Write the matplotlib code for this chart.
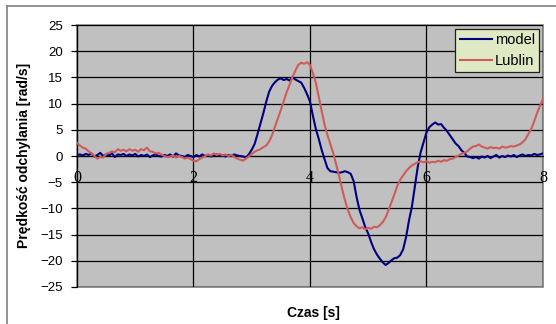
import numpy as np
import matplotlib
matplotlib.use('Agg')
import matplotlib.pyplot as plt
from matplotlib.lines import Line2D

# time grid, 0.05 s step
czas = np.linspace(0, 8, 161)

# values, 0.5 s per row
model = [
    0.2, 0.3, 0.1, 0.4, 0.2, 0.5, -0.1, 0.2, 0.6, 0.0,
    0.3, 0.1, 0.5, -0.2, 0.3, 0.2, 0.4, 0.0, 0.3, 0.1,
    0.4, -0.1, 0.2, 0.0, 0.3, -0.2, 0.1, 0.3, 0.0, -0.1,
    0.2, 0.0, 0.3, -0.1, 0.5, 0.1, 0.0, -0.2, 0.2, 0.0,
    -0.2, 0.2, -0.1, 0.3, 0.0, 0.2, -0.1, 0.1, 0.3, 0.0,
    0.2, -0.1, 0.2, 0.0, 0.3, 0.1, 0.0, -0.1, -0.3, 0.3,
    1.2, 2.3, 4.2, 6.2, 8.2, 10.4, 12.3, 13.4, 14.1, 14.6,
    14.8, 14.5, 14.7, 14.4, 15.0, 14.6, 14.3, 14.0, 13.0, 11.8,
    10.4, 7.7, 5.2, 3.3, 1.2, -0.6, -2.3, -2.9, -3.0, -3.1,
    -3.2, -3.1, -2.9, -3.1, -3.4, -4.8, -7.8, -10.3, -11.9, -13.6,
    -14.8, -16.4, -17.8, -18.8, -19.6, -20.3, -20.8, -20.4, -19.9, -19.5,
    -19.4, -18.9, -17.8, -15.5, -12.3, -9.7, -5.9, -2.1, 0.7, 2.6,
    4.5, 5.5, 6.0, 6.4, 6.0, 6.1, 5.4, 4.8, 4.0, 3.2,
    2.4, 1.9, 1.1, 0.6, -0.1, -0.2, -0.4, -0.2, -0.5, -0.1,
    -0.3, 0.0, -0.4, -0.1, 0.2, -0.3, 0.0, -0.2, 0.1, -0.1,
    0.2, -0.2, 0.1, 0.3, 0.0, 0.2, 0.1, 0.4, 0.2, 0.3,
    0.5,
]

lublin = [
    2.5, 2.0, 1.6, 1.4, 0.9, 0.5, 0.0, -0.5, -0.2, -0.3,
    0.4, 0.6, 0.9, 0.7, 1.3, 1.0, 1.2, 0.9, 1.3, 1.0,
    1.2, 0.8, 1.3, 1.1, 1.6, 0.9, 0.8, 0.5, 0.6, 0.3,
    0.0, -0.2, -0.1, 0.1, -0.3, 0.0, -0.2, -0.5, -0.3, -0.6,
    -0.9, -1.0, -0.6, -0.3, 0.0, 0.3, 0.1, 0.5, 0.2, 0.4,
    0.1, 0.3, 0.0, 0.2, -0.2, -0.5, -0.7, -0.9, -0.5, -0.1,
    0.4, 0.8, 1.1, 1.3, 1.7, 2.0, 2.8, 4.0, 5.6, 7.2,
    8.8, 10.5, 12.2, 13.6, 15.1, 16.3, 17.4, 17.8, 17.6, 17.9,
    17.4, 15.8, 14.0, 11.3, 8.5, 6.0, 4.0, 2.3, 0.5, -1.6,
    -3.8, -6.2, -8.4, -10.3, -11.7, -12.8, -13.4, -13.8, -13.6, -14.0,
    -13.7, -13.9, -13.5, -13.6, -13.2, -12.6, -11.7, -10.3, -8.8, -7.3,
    -5.7, -4.5, -3.7, -2.9, -2.3, -1.8, -1.5, -1.2, -1.0, -1.2,
    -1.0, -1.3, -1.1, -1.2, -0.9, -1.1, -0.8, -0.9, -0.6, -0.5,
    -0.2, 0.1, 0.4, 0.6, 0.9, 1.4, 1.8, 1.9, 2.2, 1.8,
    1.6, 1.4, 1.7, 1.5, 1.6, 1.4, 1.8, 1.6, 1.7, 1.9,
    1.8, 2.0, 2.2, 2.6, 3.2, 4.2, 5.2, 6.6, 8.2, 9.6,
    10.9,
]

x_ticks = [0, 2, 4, 6, 8]
y_ticks = list(range(-25, 30, 5))

fig = plt.figure(figsize=(5.56, 3.24), dpi=100, facecolor='white')
ax = fig.add_axes([0.1385, 0.1142, 0.838, 0.8086])
ax.set_facecolor('#C0C0C0')
ax.patch.set_edgecolor('#808080')
ax.patch.set_linewidth(1.2)

ax.plot(czas, model, color='#000080', lw=1.5, label='model', zorder=3)
ax.plot(czas, lublin, color='#CF5C5A', lw=1.5, label='Lublin', zorder=3)

ax.set_xlim(0, 8)
ax.set_ylim(-25, 25)
ax.set_xticks(x_ticks)
ax.set_yticks(y_ticks)
ax.grid(True, color='black', lw=0.9, zorder=1)
ax.set_axisbelow(True)

for s in ['top', 'right']:
    ax.spines[s].set_visible(False)
ax.spines['bottom'].set_position(('data', 0))
ax.spines['bottom'].set_color('black')
ax.spines['left'].set_color('black')

ax.tick_params(axis='x', length=0, pad=10)
ax.tick_params(axis='y', direction='out', length=4.3, pad=6, width=0.9)
for lab in ax.get_xticklabels():
    lab.set_fontfamily('Liberation Serif')
    lab.set_fontsize(11.5)
for lab in ax.get_yticklabels():
    lab.set_fontfamily('Liberation Sans')
    lab.set_fontsize(9.5)

leg = ax.legend(loc='upper right', bbox_to_anchor=(0.992, 0.986), fancybox=False,
                framealpha=1, facecolor='#DFE9C3', edgecolor='#202020',
                prop={'family': 'Liberation Sans', 'size': 10.5},
                handlelength=2.2, handletextpad=0.2, labelspacing=0.45,
                borderpad=0.3, borderaxespad=0)
leg.get_frame().set_linewidth(0.9)

fig.text(0.043, 0.52, 'Prędkość odchylania [rad/s]', rotation=90, ha='center', va='center',
         fontfamily='Liberation Sans', fontweight='bold', fontsize=10)
fig.text(0.563, 0.034, 'Czas [s]', ha='center', va='center',
         fontfamily='Liberation Sans', fontweight='bold', fontsize=10)

# outer chart frame (left and top edges are visible in the picture)
fig.add_artist(Line2D([0.0126, 0.0126], [0, 0.9815], transform=fig.transFigure,
                      color='#808080', lw=1.2))
fig.add_artist(Line2D([0.0126, 1], [0.9815, 0.9815], transform=fig.transFigure,
                      color='#808080', lw=1.2))

fig.savefig('out.png', dpi=100, facecolor='white')
